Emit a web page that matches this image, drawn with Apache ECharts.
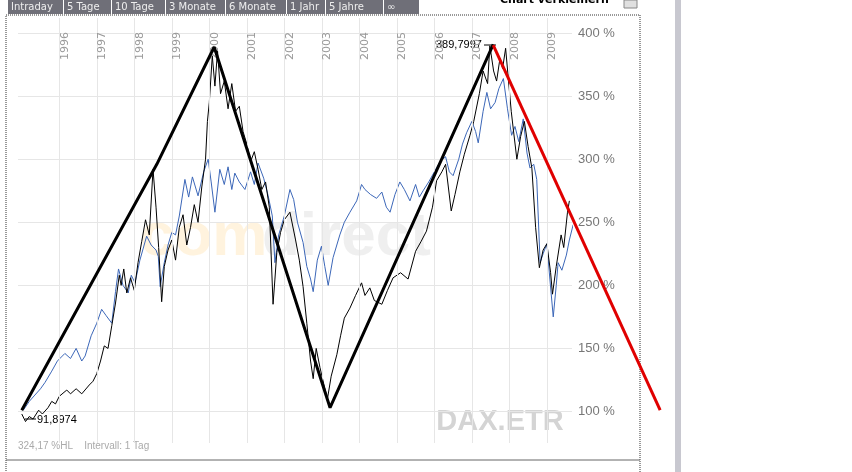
<!DOCTYPE html>
<html><head><meta charset="utf-8">
<script src="https://cdn.jsdelivr.net/npm/echarts@6/dist/echarts.min.js"></script>
<style>html,body{margin:0;padding:0;background:#fff}#c{width:852px;height:472px}</style>
</head><body><div id="c"></div>
<script>
const daxSeries = [[1995.0,98],[1995.1,92],[1995.2,96],[1995.3,94],[1995.45,101],[1995.55,98],[1995.7,103],[1995.8,108],[1995.9,106],[1996.0,112],[1996.2,117],[1996.3,114],[1996.45,118],[1996.6,114],[1996.8,121],[1996.9,124],[1997.0,130],[1997.1,140],[1997.2,152],[1997.3,150],[1997.4,168],[1997.5,186],[1997.6,208],[1997.65,200],[1997.72,213],[1997.8,194],[1997.9,206],[1998.0,196],[1998.1,218],[1998.2,235],[1998.3,252],[1998.4,240],[1998.5,292],[1998.58,262],[1998.65,230],[1998.73,187],[1998.8,215],[1998.9,228],[1999.0,236],[1999.1,220],[1999.2,246],[1999.3,256],[1999.4,232],[1999.5,246],[1999.6,264],[1999.7,250],[1999.8,278],[1999.9,300],[1999.95,330],[2000.0,345],[2000.08,382],[2000.15,358],[2000.22,386],[2000.3,352],[2000.4,362],[2000.5,340],[2000.6,360],[2000.7,338],[2000.8,342],[2000.9,322],[2001.0,312],[2001.1,298],[2001.2,306],[2001.3,292],[2001.4,276],[2001.5,282],[2001.6,262],[2001.7,185],[2001.75,205],[2001.8,226],[2001.9,242],[2002.0,252],[2002.15,258],[2002.3,236],[2002.4,220],[2002.5,199],[2002.6,170],[2002.7,140],[2002.77,126],[2002.85,150],[2002.95,135],[2003.05,122],[2003.15,110],[2003.25,128],[2003.4,145],[2003.5,160],[2003.6,174],[2003.75,182],[2003.9,192],[2004.06,202],[2004.15,192],[2004.28,198],[2004.4,188],[2004.6,185],[2004.75,196],[2004.9,206],[2005.1,210],[2005.3,205],[2005.5,227],[2005.65,235],[2005.79,243],[2005.95,262],[2006.06,283],[2006.2,290],[2006.3,296],[2006.45,259],[2006.55,272],[2006.68,290],[2006.8,304],[2006.95,319],[2007.05,330],[2007.2,352],[2007.3,370],[2007.42,360],[2007.48,390],[2007.58,370],[2007.66,362],[2007.75,380],[2007.82,372],[2007.9,388],[2008.05,338],[2008.12,320],[2008.2,300],[2008.3,318],[2008.4,330],[2008.5,310],[2008.6,293],[2008.7,246],[2008.8,214],[2008.9,228],[2009.0,233],[2009.1,210],[2009.15,193],[2009.25,215],[2009.38,240],[2009.45,230],[2009.55,258],[2009.6,267]];
const blueSeries = [[1995.04,101],[1995.2,108],[1995.35,113],[1995.5,118],[1995.62,123],[1995.8,132],[1995.95,140],[1996.15,146],[1996.3,142],[1996.45,150],[1996.6,140],[1996.69,144],[1996.85,160],[1997.0,170],[1997.13,181],[1997.25,176],[1997.4,170],[1997.5,195],[1997.58,213],[1997.7,200],[1997.84,194],[1997.92,208],[1998.02,202],[1998.15,220],[1998.33,239],[1998.45,232],[1998.58,228],[1998.64,223],[1998.69,199],[1998.8,218],[1998.9,232],[1999.0,242],[1999.1,240],[1999.2,255],[1999.35,284],[1999.45,270],[1999.55,286],[1999.7,271],[1999.85,290],[1999.97,300],[2000.05,282],[2000.15,258],[2000.28,292],[2000.4,280],[2000.5,294],[2000.6,276],[2000.68,289],[2000.8,282],[2000.95,276],[2001.1,290],[2001.2,280],[2001.3,297],[2001.45,285],[2001.57,271],[2001.68,255],[2001.75,218],[2001.85,240],[2002.0,255],[2002.15,276],[2002.25,268],[2002.35,250],[2002.5,234],[2002.6,215],[2002.7,205],[2002.77,195],[2002.88,220],[2002.99,231],[2003.08,215],[2003.17,200],[2003.3,222],[2003.48,240],[2003.6,250],[2003.75,258],[2003.93,267],[2004.06,280],[2004.15,276],[2004.3,272],[2004.46,269],[2004.6,274],[2004.72,262],[2004.82,258],[2004.95,272],[2005.08,282],[2005.2,276],[2005.35,267],[2005.5,280],[2005.6,270],[2005.7,275],[2005.85,282],[2006.0,290],[2006.15,298],[2006.3,302],[2006.4,290],[2006.5,287],[2006.65,300],[2006.75,312],[2006.86,321],[2007.0,330],[2007.1,322],[2007.17,313],[2007.3,338],[2007.4,353],[2007.5,340],[2007.62,345],[2007.72,356],[2007.84,364],[2007.95,340],[2008.06,319],[2008.15,326],[2008.25,314],[2008.37,332],[2008.47,305],[2008.55,293],[2008.65,296],[2008.73,284],[2008.82,218],[2008.9,225],[2009.0,233],[2009.08,205],[2009.17,175],[2009.25,200],[2009.3,218],[2009.4,212],[2009.52,224],[2009.6,236],[2009.7,248]];
const trendBlack = [[1995.0,101],[1998.6,296],[2000.13,389],[2003.22,103],[2007.57,391]];
const trendRed = [[2007.57,390.5],[2012.02,101]];
const years = [1996,1997,1998,1999,2000,2001,2002,2003,2004,2005,2006,2007,2008,2009];
const tabs = ['Intraday','5 Tage','10 Tage','3 Monate','6 Monate','1 Jahr','5 Jahre','∞'];
const tabX = [8,64,112,166,226,287,326,384,420];

const chart = echarts.init(document.getElementById('c'));
const g = [];
g.push({type:'rect',shape:{x:6,y:15,width:634,height:470},style:{fill:'none',stroke:'#333',lineWidth:1,lineDash:[1,1]},z:-1});
g.push({type:'line',shape:{x1:6,y1:460,x2:640,y2:460},style:{stroke:'#666',lineWidth:1}});
g.push({type:'rect',shape:{x:675,y:0,width:6,height:472},style:{fill:'#c8c8d0'}});
for(let i=0;i<tabs.length;i++){
  g.push({type:'rect',shape:{x:tabX[i],y:0,width:tabX[i+1]-tabX[i]-1,height:14},style:{fill:'#6f6f78'}});
  g.push({type:'text',x:tabX[i]+3,y:2,style:{text:tabs[i],fill:'#eee',font:'10px DejaVu Sans'}});
}
g.push({type:'text',x:500,y:-5,style:{text:'Chart verkleinern',fill:'#000',font:'bold 11px DejaVu Sans'}});
g.push({type:'rect',shape:{x:624,y:0,width:13,height:8},style:{fill:'#e0e0e0',stroke:'#888'}});
g.push({type:'text',x:140,y:238,style:{text:'com',fill:'rgba(255,235,200,0.6)',font:'bold 62px Liberation Sans',verticalAlign:'middle'},z:-1});
g.push({type:'text',x:262,y:238,style:{text:'direct',fill:'rgba(232,232,232,0.7)',font:'bold 62px Liberation Sans',verticalAlign:'middle'},z:-1});
g.push({type:'text',x:500,y:422,style:{text:'DAX.ETR',fill:'#d4d4d4',font:'bold 29px Liberation Sans',align:'center',verticalAlign:'middle'},z:-1});
g.push({type:'text',x:18,y:441,style:{text:'324,17 %HL    Intervall: 1 Tag',fill:'#aaa',font:'10px Liberation Sans'}});
g.push({type:'text',x:37,y:414,style:{text:'91,8974',fill:'#000',font:'11px Liberation Sans'}});
g.push({type:'line',shape:{x1:25,y1:419,x2:36,y2:419},style:{stroke:'#000',lineWidth:1}});
g.push({type:'text',x:436,y:39,style:{text:'389,7997',fill:'#000',font:'11px Liberation Sans'}});
g.push({type:'line',shape:{x1:484,y1:45,x2:496,y2:45},style:{stroke:'#000',lineWidth:1}});

chart.setOption({
  animation:false,
  grid:{left:18,right:280,top:18,bottom:29},
  xAxis:{type:'value',min:1994.9,max:2009.67,axisLine:{show:false},axisTick:{show:false},axisLabel:{show:false},splitLine:{show:false}},
  yAxis:{type:'value',position:'right',min:75,max:412,interval:25,axisLine:{show:false},axisTick:{show:false},
    axisLabel:{margin:6,color:'#777',fontSize:13,fontFamily:'Liberation Sans',formatter:v=>(v%50===0&&v>=100)?v+' %':''},
    splitLine:{lineStyle:{color:['transparent','#e6e6e6']}}},
  graphic:g,
  series:[
    {type:'line',data:[],markLine:{silent:true,symbol:'none',lineStyle:{color:'#e6e6e6',type:'solid',width:1},
      label:{position:'insideEndBottom',distance:[14,0],color:'#999',fontSize:11,fontFamily:'DejaVu Sans',formatter:p=>String(p.value)},
      data:years.map(y=>({xAxis:y}))}},
    {type:'line',data:blueSeries,showSymbol:false,lineStyle:{color:'#3c67b8',width:1},z:3},
    {type:'line',data:daxSeries,showSymbol:false,lineStyle:{color:'#000',width:1},z:4},
    {type:'line',data:trendBlack,showSymbol:false,lineStyle:{color:'#000',width:3},z:5}
  ]
});
const p0 = chart.convertToPixel({xAxisIndex:0,yAxisIndex:0}, trendRed[0]);
const p1 = chart.convertToPixel({xAxisIndex:0,yAxisIndex:0}, trendRed[1]);
g.push({type:'line',shape:{x1:p0[0],y1:p0[1],x2:p1[0],y2:p1[1]},style:{stroke:'#e00000',lineWidth:3},z:100});
chart.setOption({graphic:g});
</script></body></html>
